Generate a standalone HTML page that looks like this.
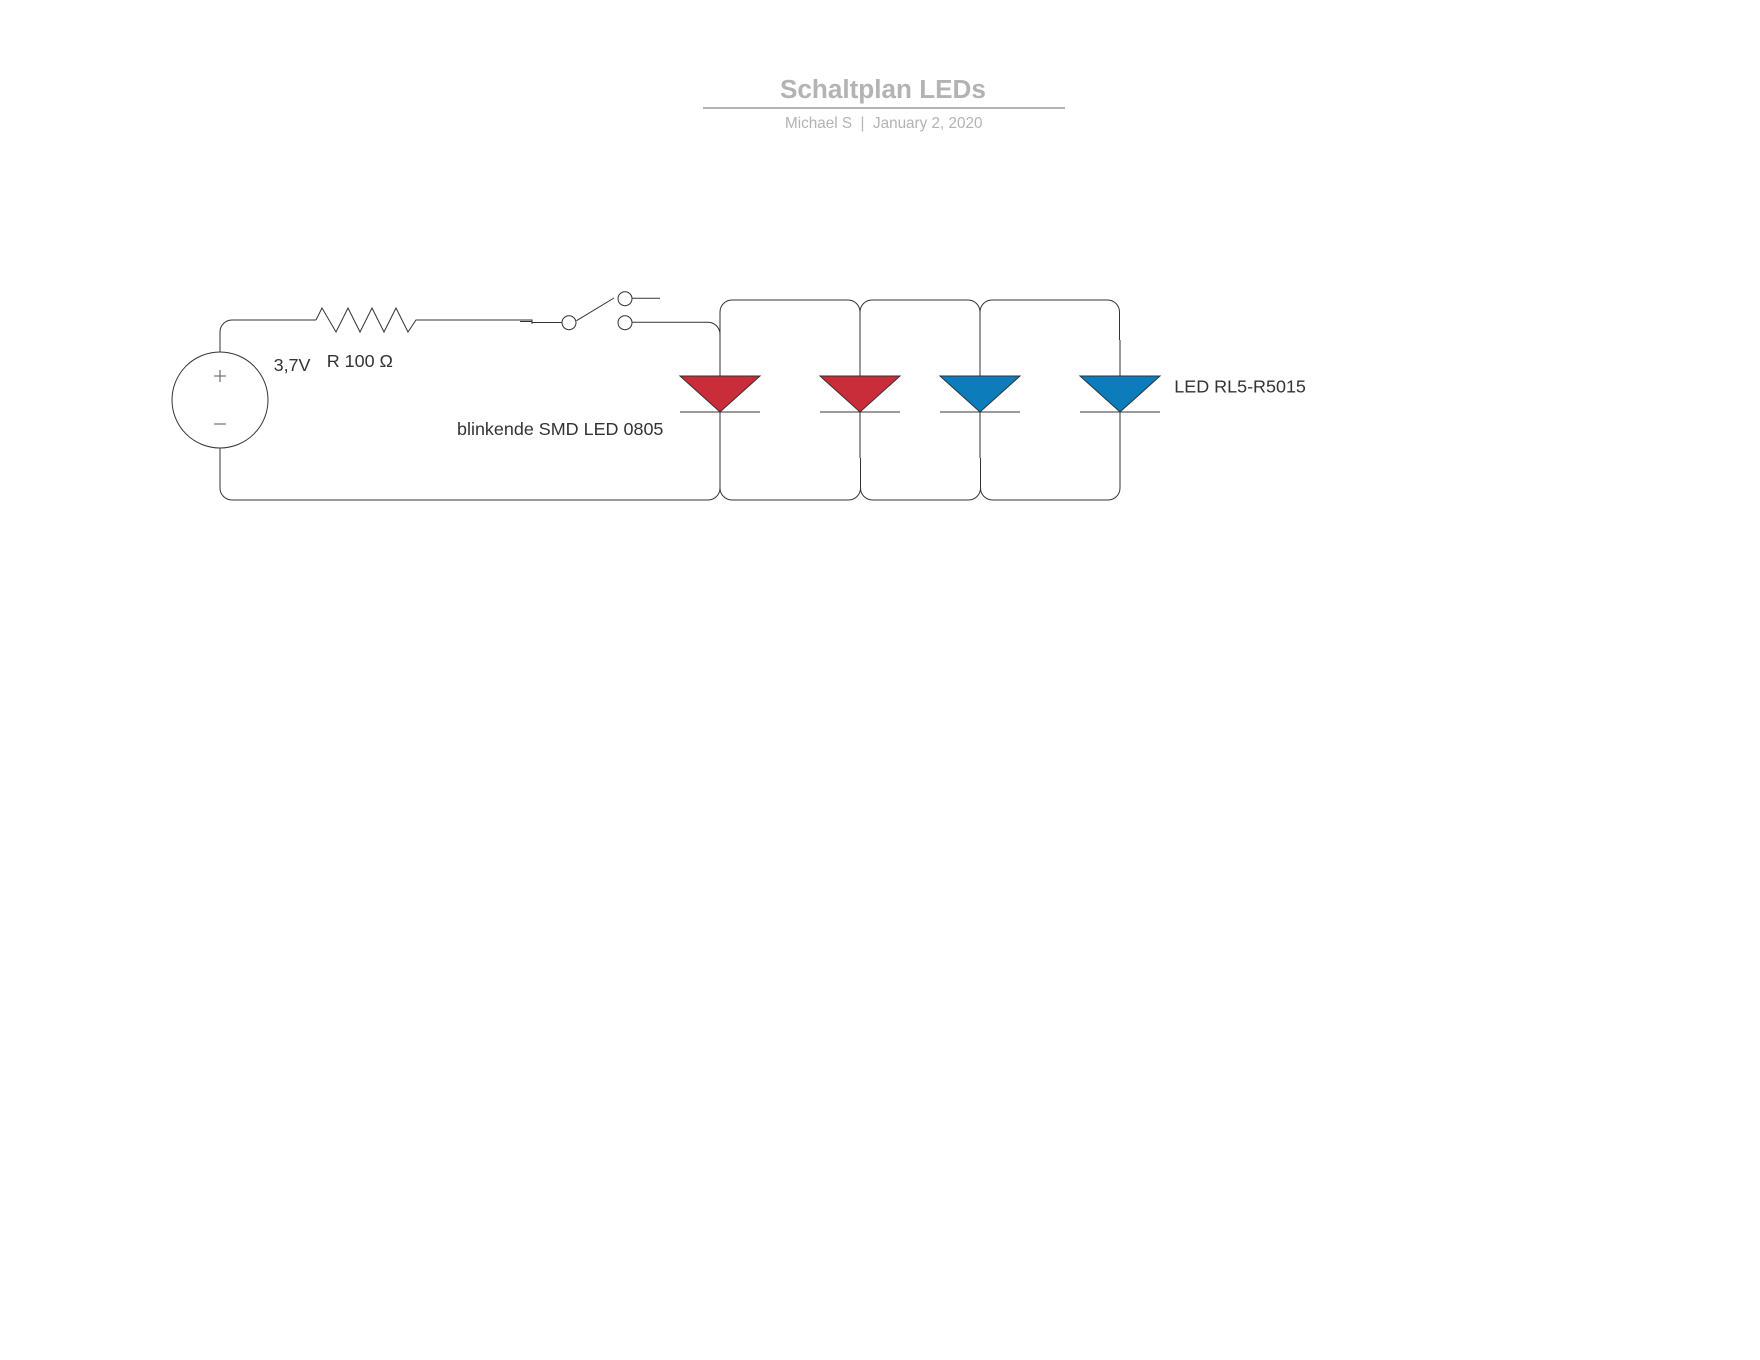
<!DOCTYPE html>
<html>
<head>
<meta charset="utf-8">
<style>
html,body{margin:0;padding:0;background:#fff;width:1760px;height:1360px;overflow:hidden}
svg{display:block}
text{font-family:"Liberation Sans",sans-serif}
</style>
</head>
<body>
<svg width="1760" height="1360" viewBox="0 0 1760 1360" xmlns="http://www.w3.org/2000/svg">
<rect width="1760" height="1360" fill="#fff"/>
<text x="780" y="98" font-size="26.1" font-weight="bold" fill="#b3b3b3">Schaltplan LEDs</text>
<line x1="703" y1="108" x2="1065" y2="108" stroke="#b3b3b3" stroke-width="2"/>
<text x="785" y="128" font-size="15.28" fill="#b3b3b3" xml:space="preserve">Michael S  |  January 2, 2020</text>

<g fill="none" stroke="#333" stroke-width="1">
<circle cx="220" cy="400" r="48"/>
<path d="M214 376H226M220 370V382" stroke="#555"/>
<path d="M214 424H226" stroke="#555"/>
<path d="M220 352V332A12 12 0 0 1 232 320H316"/>
<path d="M316 320L322 308L336 332L348 308L360 332L372 308L384 332L396 308L408 332L416 320H532V324"/>
<path d="M520 321.5H532"/>
<path d="M532 322.5H562"/>
<circle cx="569" cy="322.7" r="7"/>
<circle cx="625" cy="322.7" r="7"/>
<circle cx="625" cy="298.7" r="7"/>
<path d="M576.5 320.7L614 298"/>
<path d="M632 298.3H660"/>
<path d="M632 322.3H708A12 12 0 0 1 720 334V376"/>
<path d="M720 340V312A12 12 0 0 1 732 300H848A12 12 0 0 1 860 312V376"/>
<path d="M860 312A12 12 0 0 1 872 300H968A12 12 0 0 1 980 312V376"/>
<path d="M980 312A12 12 0 0 1 992 300H1107.5A12 12 0 0 1 1119.5 312V340"/>
<path d="M1120 340V376"/>
<path d="M720 412V488A12 12 0 0 1 708 500H232A12 12 0 0 1 220 488V448"/>
<path d="M720 458V488A12 12 0 0 0 732 500H848.5A12 12 0 0 0 860.5 488V458"/>
<path d="M860 412V458"/>
<path d="M860.5 488A12 12 0 0 0 872.5 500H968.5A12 12 0 0 0 980.5 488V458"/>
<path d="M980 412V458"/>
<path d="M980.5 488A12 12 0 0 0 992.5 500H1108A12 12 0 0 0 1120 488V460"/>
<path d="M1120 412V460"/>
</g>

<g stroke="#333" stroke-width="1">
<path d="M680 376H760L720 412Z" fill="#c92d39"/>
<path d="M820 376H900L860 412Z" fill="#c92d39"/>
<path d="M940 376H1020L980 412Z" fill="#0c7cba"/>
<path d="M1080 376H1160L1120 412Z" fill="#0c7cba"/>
<path d="M680 412H760M820 412H900M940 412H1020M1080 412H1160" fill="none"/>
</g>

<g font-size="17.95" fill="#333">
<text x="273.6" y="371">3,7V</text>
<text x="326.7" y="367">R 100 Ω</text>
<text x="457" y="435">blinkende SMD LED 0805</text>
<text x="1174.3" y="392.5">LED RL5-R5015</text>
</g>
</svg>
</body>
</html>
